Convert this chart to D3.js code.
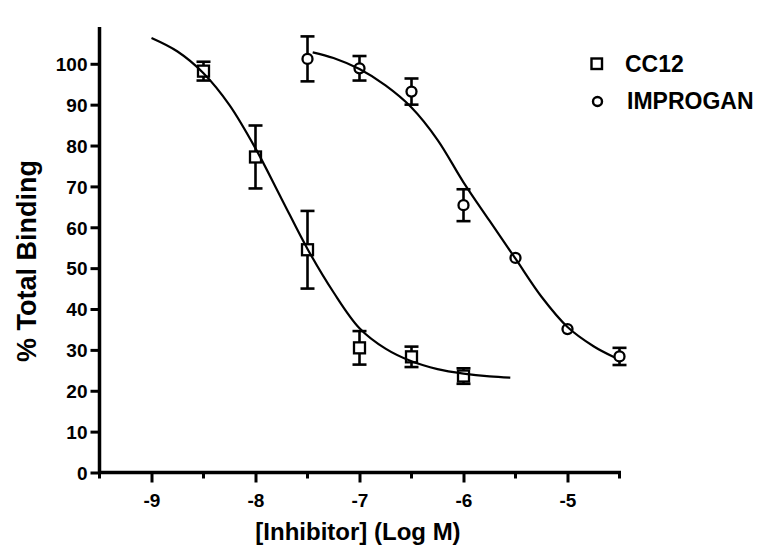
<!DOCTYPE html>
<html>
<head>
<meta charset="utf-8">
<script src="https://cdn.jsdelivr.net/npm/d3@7/dist/d3.min.js"></script>
<style>
  html, body { margin: 0; padding: 0; background: #fff; }
  svg { display: block; }
  text { font-family: "Liberation Sans", Arial, sans-serif; font-weight: bold; fill: #000; }
</style>
</head>
<body>
<svg id="chart" width="767" height="556"></svg>
<script>
// ---- data ----
const cc12X   = [-8.5, -8.0, -7.5, -7.0, -6.5, -6.0];
const cc12Y   = [98.2, 77.2, 54.5, 30.5, 28.3, 23.6];
const cc12Err = [2.3, 7.7, 9.5, 4.1, 2.5, 1.9];

const improX   = [-7.5, -7.0, -6.5, -6.0, -5.5, -5.0, -4.5];
const improY   = [101.2, 98.9, 93.2, 65.4, 52.5, 35.1, 28.4];
const improErr = [5.5, 3.0, 3.2, 3.9, 0, 0, 2.1];

// fitted curves, points
const cc12CurveX = [-9.0, -8.75, -8.5, -8.25, -8.0, -7.75, -7.5, -7.25, -7.0, -6.75, -6.5, -6.25, -6.0, -5.75, -5.55];
const cc12CurveY = [106.3, 103.0, 97.7, 89.9, 79.3, 67.0, 54.7, 44.1, 35.3, 30.3, 27.2, 25.3, 24.2, 23.5, 23.2];
const improCurveX = [-7.45, -7.25, -7.0, -6.75, -6.5, -6.25, -6.0, -5.75, -5.5, -5.25, -5.0, -4.75, -4.55];
const improCurveY = [102.8, 101.4, 98.7, 94.7, 89.3, 81.4, 71.0, 61.6, 52.3, 43.0, 35.6, 30.9, 28.2];

const xTicks = [-9, -8, -7, -6, -5];
const xMinorTicks = [-9.5, -8.5, -7.5, -6.5, -5.5, -4.5];
const yTicks = [0, 10, 20, 30, 40, 50, 60, 70, 80, 90, 100];

const seriesNames = ["CC12", "IMPROGAN"];
const xTitle = "[Inhibitor] (Log M)";
const yTitle = "% Total Binding";

// ---- drawing ----
const svg = d3.select("#chart");
const x = d3.scaleLinear().domain([-9.5, -4.5]).range([99.5, 619.5]);
const y = d3.scaleLinear().domain([0, 109]).range([472.5, 27]);

// y axis
const yAxis = d3.axisLeft(y).tickValues(yTicks).tickSize(9).tickPadding(3).tickFormat(d => String(d));
const gy = svg.append("g").attr("transform", `translate(${x(-9.5)},0)`).call(yAxis);
gy.select(".domain").remove();
gy.selectAll(".tick line").attr("stroke", "#000").attr("stroke-width", 3);
gy.selectAll(".tick text").style("font-size", "19px").attr("dy", "0.36em");
svg.append("line").attr("x1", x(-9.5)).attr("x2", x(-9.5)).attr("y1", y(109)).attr("y2", y(0) + 1.5)
  .attr("stroke", "#000").attr("stroke-width", 3.5);

// x axis
const xAxis = d3.axisBottom(x).tickValues(xTicks).tickSize(10).tickPadding(11).tickFormat(d => String(d));
const gx = svg.append("g").attr("transform", `translate(0,${y(0)})`).call(xAxis);
gx.select(".domain").remove();
gx.selectAll(".tick line").attr("stroke", "#000").attr("stroke-width", 3);
gx.selectAll(".tick text").style("font-size", "19px");
gx.selectAll(".minor").data(xMinorTicks).enter().append("line")
  .attr("x1", d => x(d)).attr("x2", d => x(d)).attr("y1", 0).attr("y2", 6)
  .attr("stroke", "#000").attr("stroke-width", 3);
svg.append("line").attr("x1", x(-9.5) - 1.5).attr("x2", x(-4.5) + 1.5).attr("y1", y(0)).attr("y2", y(0))
  .attr("stroke", "#000").attr("stroke-width", 3.5);

// titles
svg.append("text").attr("x", 358).attr("y", 540).attr("text-anchor", "middle")
  .style("font-size", "24px").text(xTitle);
svg.append("text").attr("transform", `translate(36,261) rotate(-90)`).attr("text-anchor", "middle")
  .style("font-size", "27px").text(yTitle);

// series
const series = [
  { xs: cc12X, ys: cc12Y, es: cc12Err, cx: cc12CurveX, cy: cc12CurveY, shape: "square" },
  { xs: improX, ys: improY, es: improErr, cx: improCurveX, cy: improCurveY, shape: "circle" }
];
const line = d3.line().x(d => x(d[0])).y(d => y(d[1])).curve(d3.curveCatmullRom.alpha(0.5));

series.forEach(s => {
  const pts = s.xs.map((v, i) => ({ x: v, y: s.ys[i], e: s.es[i] }));
  const g = svg.append("g");
  // error bars
  pts.filter(p => p.e > 0).forEach(p => {
    const eb = g.append("g").attr("stroke", "#000").attr("stroke-width", 2.6);
    eb.append("line").attr("x1", x(p.x)).attr("x2", x(p.x)).attr("y1", y(p.y + p.e)).attr("y2", y(p.y - p.e));
    [p.y + p.e, p.y - p.e].forEach(v => {
      eb.append("line").attr("x1", x(p.x) - 7).attr("x2", x(p.x) + 7).attr("y1", y(v)).attr("y2", y(v));
    });
  });
  // markers
  if (s.shape === "square") {
    g.selectAll("rect").data(pts).enter().append("rect")
      .attr("x", d => x(d.x) - 5.5).attr("y", d => y(d.y) - 5.5)
      .attr("width", 11).attr("height", 11)
      .attr("fill", "#fff").attr("stroke", "#000").attr("stroke-width", 2.3);
  } else {
    g.selectAll("circle").data(pts).enter().append("circle")
      .attr("cx", d => x(d.x)).attr("cy", d => y(d.y)).attr("r", 5)
      .attr("fill", "#fff").attr("stroke", "#000").attr("stroke-width", 2.3);
  }
  // fitted curve on top
  svg.append("path").datum(s.cx.map((v, i) => [v, s.cy[i]]))
    .attr("d", line).attr("fill", "none").attr("stroke", "#000").attr("stroke-width", 2.2);
});

// legend
const leg = svg.append("g");
leg.append("rect").attr("x", 591.5).attr("y", 58.5).attr("width", 10.5).attr("height", 10.5)
  .attr("fill", "#fff").attr("stroke", "#000").attr("stroke-width", 2.4);
leg.append("circle").attr("cx", 597.5).attr("cy", 101.5).attr("r", 4.5)
  .attr("fill", "#fff").attr("stroke", "#000").attr("stroke-width", 2.4);
leg.append("text").attr("x", 625).attr("y", 72).style("font-size", "23px").text(seriesNames[0]);
leg.append("text").attr("x", 627).attr("y", 109).style("font-size", "23px").text(seriesNames[1]);
</script>
</body>
</html>
